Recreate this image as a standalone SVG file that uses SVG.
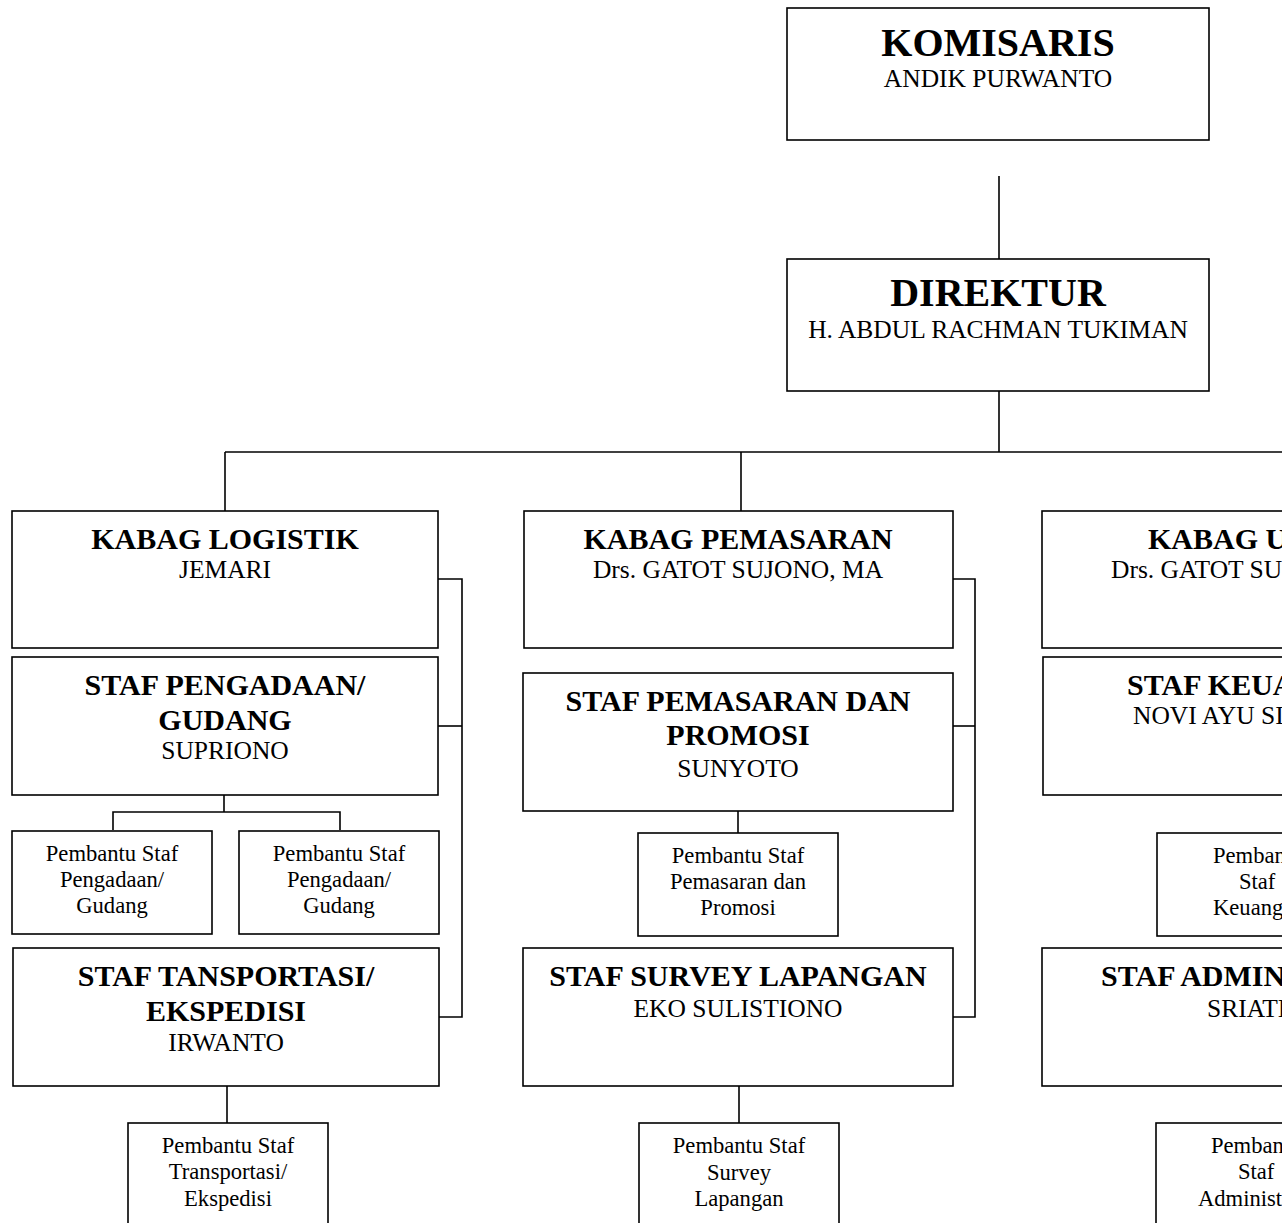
<svg xmlns="http://www.w3.org/2000/svg" width="1282" height="1223" viewBox="0 0 1282 1223">
<style>
  .box { fill: #ffffff; stroke: #000000; stroke-width: 1.6; }
  .ln { fill: none; stroke: #000000; stroke-width: 1.6; }
  text { font-family: "Liberation Serif", "Times New Roman", serif; fill: #000000; }
  .t40 { font-size: 40px; font-weight: bold; text-anchor: middle; }
  .t29 { font-size: 30px; font-weight: bold; text-anchor: middle; }
  .n24 { font-size: 25.5px; text-anchor: middle; }
  .p22 { font-size: 22.6px; text-anchor: middle; }
  .s29 { font-size: 30px; font-weight: bold; }
  .s24 { font-size: 25.5px; }
  .s22 { font-size: 22.6px; }
</style>
<rect width="1282" height="1223" fill="#ffffff"/>

<g id="connectors">
  <line class="ln" x1="999" y1="176" x2="999" y2="259"/>
  <line class="ln" x1="999" y1="391" x2="999" y2="452"/>
  <line class="ln" x1="225" y1="452" x2="1282" y2="452"/>
  <line class="ln" x1="225" y1="452" x2="225" y2="511"/>
  <line class="ln" x1="741" y1="452" x2="741" y2="511"/>
  <polyline class="ln" points="438,579 462,579 462,1017 439,1017"/>
  <line class="ln" x1="438" y1="726" x2="462" y2="726"/>
  <polyline class="ln" points="224,795 224,812"/>
  <polyline class="ln" points="113,830 113,812 340,812 340,830"/>
  <line class="ln" x1="227" y1="1086" x2="227" y2="1123"/>
  <polyline class="ln" points="953,579 975,579 975,1017 953,1017"/>
  <line class="ln" x1="953" y1="726" x2="975" y2="726"/>
  <line class="ln" x1="738" y1="795" x2="738" y2="833"/>
  <line class="ln" x1="739" y1="1086" x2="739" y2="1123"/>
</g>

<g id="komisaris">
  <rect class="box" x="787" y="8" width="422" height="132"/>
  <text class="t40" x="998" y="56">KOMISARIS</text>
  <text class="n24" x="998" y="87">ANDIK PURWANTO</text>
</g>

<g id="direktur">
  <rect class="box" x="787" y="259" width="422" height="132"/>
  <text class="t40" x="998" y="306">DIREKTUR</text>
  <text class="n24" x="998" y="338">H. ABDUL RACHMAN TUKIMAN</text>
</g>

<g id="kabag-logistik">
  <rect class="box" x="12" y="511" width="426" height="137"/>
  <text class="t29" x="225" y="549">KABAG LOGISTIK</text>
  <text class="n24" x="225" y="578">JEMARI</text>
</g>

<g id="staf-pengadaan">
  <rect class="box" x="12" y="657" width="426" height="138"/>
  <text class="t29" x="225" y="695">STAF PENGADAAN/</text>
  <text class="t29" x="225" y="730">GUDANG</text>
  <text class="n24" x="225" y="759">SUPRIONO</text>
</g>

<g id="pembantu-pengadaan-1">
  <rect class="box" x="12" y="831" width="200" height="103"/>
  <text class="p22" x="112" y="861">Pembantu Staf</text>
  <text class="p22" x="112" y="887">Pengadaan/</text>
  <text class="p22" x="112" y="913">Gudang</text>
</g>

<g id="pembantu-pengadaan-2">
  <rect class="box" x="239" y="831" width="200" height="103"/>
  <text class="p22" x="339" y="861">Pembantu Staf</text>
  <text class="p22" x="339" y="887">Pengadaan/</text>
  <text class="p22" x="339" y="913">Gudang</text>
</g>

<g id="staf-transportasi">
  <rect class="box" x="13" y="948" width="426" height="138"/>
  <text class="t29" x="226" y="986">STAF TANSPORTASI/</text>
  <text class="t29" x="226" y="1021">EKSPEDISI</text>
  <text class="n24" x="226" y="1051">IRWANTO</text>
</g>

<g id="pembantu-transportasi">
  <rect class="box" x="128" y="1123" width="200" height="110"/>
  <text class="p22" x="228" y="1153">Pembantu Staf</text>
  <text class="p22" x="228" y="1179">Transportasi/</text>
  <text class="p22" x="228" y="1206">Ekspedisi</text>
</g>

<g id="kabag-pemasaran">
  <rect class="box" x="524" y="511" width="429" height="137"/>
  <text class="t29" x="738" y="549">KABAG PEMASARAN</text>
  <text class="n24" x="738" y="578">Drs. GATOT SUJONO, MA</text>
</g>

<g id="staf-pemasaran">
  <rect class="box" x="523" y="673" width="430" height="138"/>
  <text class="t29" x="738" y="711">STAF PEMASARAN DAN</text>
  <text class="t29" x="738" y="745">PROMOSI</text>
  <text class="n24" x="738" y="777">SUNYOTO</text>
</g>

<g id="pembantu-pemasaran">
  <rect class="box" x="638" y="833" width="200" height="103"/>
  <text class="p22" x="738" y="863">Pembantu Staf</text>
  <text class="p22" x="738" y="889">Pemasaran dan</text>
  <text class="p22" x="738" y="915">Promosi</text>
</g>

<g id="staf-survey">
  <rect class="box" x="523" y="948" width="430" height="138"/>
  <text class="t29" x="738" y="986">STAF SURVEY LAPANGAN</text>
  <text class="n24" x="738" y="1017">EKO SULISTIONO</text>
</g>

<g id="pembantu-survey">
  <rect class="box" x="639" y="1123" width="200" height="110"/>
  <text class="p22" x="739" y="1153">Pembantu Staf</text>
  <text class="p22" x="739" y="1180">Survey</text>
  <text class="p22" x="739" y="1206">Lapangan</text>
</g>

<g id="kabag-umum">
  <rect class="box" x="1042" y="511" width="300" height="137"/>
  <text class="s29" x="1148" y="549">KABAG U</text>
  <text class="s24" x="1111" y="578">Drs. GATOT SU</text>
</g>

<g id="staf-keuangan">
  <rect class="box" x="1043" y="657" width="300" height="138"/>
  <text class="s29" x="1127" y="695">STAF KEUA</text>
  <text class="s24" x="1133" y="724">NOVI AYU SI</text>
</g>

<g id="pembantu-keuangan">
  <rect class="box" x="1157" y="833" width="200" height="103"/>
  <text class="s22" x="1213" y="863">Pemban</text>
  <text class="s22" x="1239" y="889">Staf</text>
  <text class="s22" x="1213" y="915">Keuang</text>
</g>

<g id="staf-administrasi">
  <rect class="box" x="1042" y="948" width="300" height="138"/>
  <text class="s29" x="1101" y="986">STAF ADMIN</text>
  <text class="s24" x="1207" y="1017">SRIATI</text>
</g>

<g id="pembantu-administrasi">
  <rect class="box" x="1156" y="1123" width="200" height="110"/>
  <text class="s22" x="1211" y="1153">Pemban</text>
  <text class="s22" x="1238" y="1179">Staf</text>
  <text class="s22" x="1198" y="1206">Administ</text>
</g>
</svg>
